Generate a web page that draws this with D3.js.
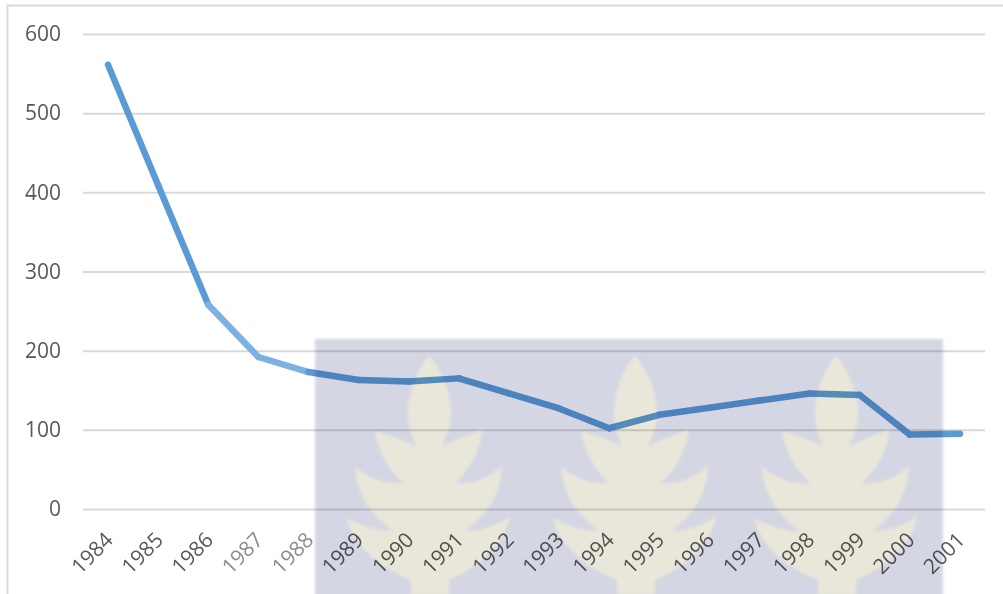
<!DOCTYPE html>
<html><head><meta charset="utf-8">
<script src="https://cdn.jsdelivr.net/npm/d3@7"></script>
<style>html,body{margin:0;padding:0;background:#fff;overflow:hidden}svg{display:block}text{font-family:"Open Sans",sans-serif;fill:#595959}</style>
</head><body><svg id="c" width="1003" height="594"></svg>
<script>
const years=["1984","1985","1986","1987","1988","1989","1990","1991","1992","1993","1994","1995","1996","1997","1998","1999","2000","2001"];
const values=[561,409,258,192,173,163,161,165,146,127,102,119,128,137,146,144,94,95];
const yTicks=[0,100,200,300,400,500,600];
const leafCentres=[429,635,836];
const paleYears=["1986","1987"];

const svg=d3.select("#c");
const x=d3.scaleBand().domain(years).range([83,985]);
const y=d3.scaleLinear().domain([0,600]).range([509,34]);
const cx=d=>x(d)+x.bandwidth()/2;

svg.append("path").attr("d","M7.5 594V5.5H1003").attr("fill","none").attr("stroke","#d9d9d9").attr("stroke-width",2);

const yAxis=d3.axisLeft(y).tickValues(yTicks).tickSize(-(985-83)).tickPadding(22);
const gy=svg.append("g").attr("transform","translate(83,0)").call(yAxis);
gy.select(".domain").remove();
gy.selectAll("line").attr("stroke","#d9d9d9").attr("stroke-width",2);
gy.selectAll("text").style("font-size","21px").style("fill","#595959");

const xAxis=d3.axisBottom(x).tickSize(0);
const gx=svg.append("g").attr("transform","translate(0,509)").call(xAxis);
gx.select(".domain").remove();
gx.selectAll("text").style("font-size","21px").attr("text-anchor","end")
  .attr("transform","translate(1,27) rotate(-45)").attr("dy","0.35em").attr("dx",0).attr("y",0)
  .style("fill",d=>(d==="1987"||d==="1988")?"#8c8c8c":"#595959");

const pairs=d3.pairs(years.map((d,i)=>({year:d,value:values[i]})));
svg.append("g").selectAll("line").data(pairs).join("line")
  .attr("x1",d=>cx(d[0].year)).attr("y1",d=>y(d[0].value))
  .attr("x2",d=>cx(d[1].year)).attr("y2",d=>y(d[1].value))
  .attr("stroke",d=>paleYears.includes(d[0].year)?"#7cb2e2":"#5b9bd5")
  .attr("stroke-width",6.5).attr("stroke-linecap","round");

// watermark, multiplied over the chart
const defs=svg.append("defs");
defs.append("filter").attr("id","soft").attr("x","-5%").attr("y","-5%").attr("width","110%").attr("height","110%")
  .append("feGaussianBlur").attr("stdDeviation",1.8);
const wm=svg.append("g").style("mix-blend-mode","multiply").attr("filter","url(#soft)");
wm.append("rect").attr("x",315).attr("y",339).attr("width",628).attr("height",270).attr("fill","#d5d6e3");
const leaf="M0 0C-14 18-22 40-21 62C-20 76-15 84-13 92C-25 84-42 80-54 76C-50 100-38 118-25 128C-45 130-62 122-74 112C-72 140-58 160-36 176C-52 176-70 170-82 163C-76 190-50 212-18 225L-18 240H20L20 225C50 212 76 190 81 161C70 170 52 176 36 176C58 160 72 140 73 110C62 122 45 130 25 128C38 118 50 100 54 74C42 80 25 84 13 92C15 84 21 76 22 62C23 40 14 18 0 0Z";
wm.selectAll("path.leaf").data(leafCentres).join("path").attr("class","leaf")
  .attr("d",leaf).attr("transform",d=>`translate(${d},355)`).attr("fill","#e9e7da");
</script></body></html>
